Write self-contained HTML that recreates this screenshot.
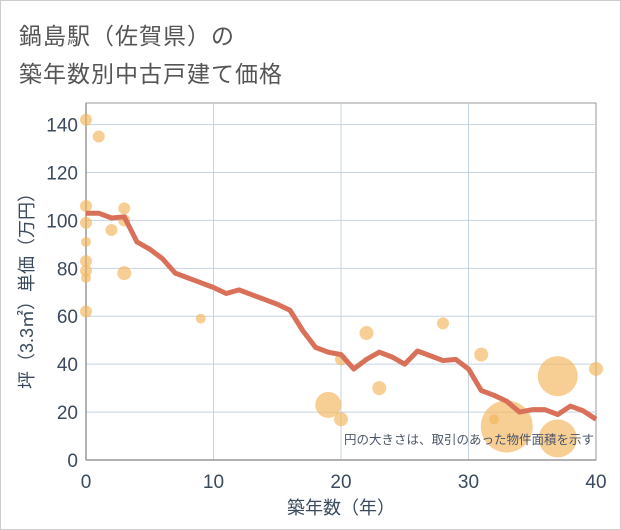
<!DOCTYPE html>
<html><head><meta charset="utf-8"><style>
body{margin:0;background:#fff;font-family:"Liberation Sans","Noto Sans CJK JP",sans-serif}
#wrap{position:relative;width:619px;height:528px;border:1px solid #ccc;}
.title{position:absolute;left:18px;font-size:23px;color:#555;letter-spacing:1px}
</style></head><body>
<div id="wrap">
<div class="title" style="top:16px">鍋島駅（佐賀県）の</div>
<div class="title" style="top:54px">築年数別中古戸建て価格</div>
<svg id="chart" width="621" height="530" style="position:absolute;left:-1px;top:-1px"></svg>
</div>
<script>
const lineYears=[0,1,2,3,4,5,6,7,8,9,10,11,12,13,14,15,16,17,18,19,20,21,22,23,24,25,26,27,28,29,30,31,32,33,34,35,36,37,38,39,40];
const lineValues=[103,103,101,101.5,91,88,84,78,76,74,72,69.5,71,69,67,65,62.5,54,47,45,44,38,42,45,43,40,45.5,43.5,41.5,42,38,29,27,24.5,20,21,21,19,22.5,20.5,17];
const bubbleYears=[0,1,0,0,0,0,0,0,0,2,3,3,3,9,19,20,20,22,23,28,31,32,33,37,37,40];
const bubbleValues=[142,135,106,99,91,83,79,76,62,96,105,100,78,59,23,17,42,53,30,57,44,17,14,35,9,38];
const bubbleAreas=[36,36,36,36,25,36,36,25,36,36,36,36,49,25,169,49,36,49,49,36,49,25,676,400,361,49];
const xTicks=[0,10,20,30,40];
const yTicks=[0,20,40,60,80,100,120,140];
const NS="http://www.w3.org/2000/svg";
const svg=document.getElementById('chart');
const L=86,R=596,T=103,B=460;
const xs=v=>L+(v/40)*(R-L);
const ys=v=>B-(v/149)*(B-T);
function mk(tag,attrs,parent){const e=document.createElementNS(NS,tag);for(const k in attrs)e.setAttribute(k,attrs[k]);(parent||svg).appendChild(e);return e;}
mk('rect',{x:L,y:T,width:R-L,height:B-T,fill:'#fff',stroke:'#999','stroke-width':1});
yTicks.forEach(t=>{
 if(t>0){const g=mk('line',{x1:L,x2:R,y1:ys(t),y2:ys(t),stroke:'#c5d3e0','stroke-width':1});
 }
 const tx=mk('text',{x:L-8,y:ys(t)+7,'text-anchor':'end','font-size':19,fill:'#3a4a5e'});tx.textContent=t;
 
});
xTicks.forEach(t=>{
 if(t>0&&t<40){const g=mk('line',{x1:xs(t),x2:xs(t),y1:T,y2:B,stroke:'#c5d3e0','stroke-width':1});
 }
 const tx=mk('text',{x:xs(t),y:B+28,'text-anchor':'middle','font-size':19,fill:'#3a4a5e'});tx.textContent=t;
 
});
mk('line',{x1:L,x2:R,y1:B,y2:B,stroke:'#999','stroke-width':1.5});
mk('line',{x1:L,x2:L,y1:T,y2:B,stroke:'#999','stroke-width':1.5});
bubbleYears.forEach((yr,i)=>{
 const c=mk('circle',{cx:xs(yr),cy:ys(bubbleValues[i]),r:Math.sqrt(bubbleAreas[i]),fill:'#f3b65a','fill-opacity':0.65});
 
});
const p=mk('polyline',{points:lineYears.map((y,i)=>xs(y)+','+ys(lineValues[i])).join(' '),fill:'none',stroke:'#d9705a','stroke-width':5,'stroke-linejoin':'round'});

const note=mk('text',{x:R-2,y:444,'text-anchor':'end','font-size':12.5,fill:'#4a5568'});note.textContent='円の大きさは、取引のあった物件面積を示す';

const xt=mk('text',{x:(L+R)/2,y:514,'text-anchor':'middle','font-size':18,fill:'#3a4a5e'});xt.textContent='築年数（年）';

const yt=mk('text',{x:0,y:0,'text-anchor':'middle','font-size':18,fill:'#3a4a5e',transform:'translate(33,'+((T+B)/2+5)+') rotate(-90)'});yt.textContent='坪（3.3㎡）単価（万円）';

</script>
</body></html>
